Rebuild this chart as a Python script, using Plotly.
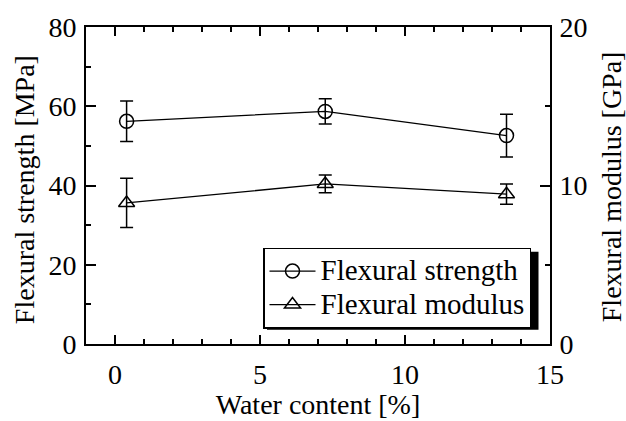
import plotly.graph_objects as go

water = [0.4, 7.25, 13.5]
strength = [56.2, 58.7, 52.6]
strength_err = [5.1, 3.2, 5.4]
modulus = [8.9, 10.1, 9.45]
modulus_err = [1.55, 0.56, 0.64]

FONT = "Liberation Serif"
W, H = 626, 421
L, R, T, B = 86, 76, 25, 71.5
pw, ph = W - L - R, H - T - B

fig = go.Figure()
fig.add_trace(go.Scatter(
    x=water, y=strength, name='<span style="font-size:29px">Flexural strength</span>',
    mode="lines+markers",
    line=dict(color="black", width=1.3),
    marker=dict(symbol="circle-open", size=14, color="black", line=dict(width=1.5)),
    error_y=dict(type="data", array=strength_err, color="black", thickness=1.5, width=6.5),
))
fig.add_trace(go.Scatter(
    x=water, y=modulus, name='<span style="font-size:29px">Flexural modulus</span>',
    mode="lines+markers", yaxis="y2",
    line=dict(color="black", width=1.3),
    marker=dict(symbol="triangle-up-open", size=14, color="black", line=dict(width=1.5)),
    error_y=dict(type="data", array=modulus_err, color="black", thickness=1.5, width=6.5),
))

def px2paper(x, y):
    return (x - L) / pw, (H - B - y) / ph

x0, y0 = px2paper(267, 255)
x1, y1 = px2paper(538.5, 335)
fig.add_shape(type="rect", xref="paper", yref="paper", x0=x0, y0=y1, x1=x1, y1=y0,
              fillcolor="black", line=dict(width=0), layer="above")

lx, ly = px2paper(263, 251)

tx, ty = px2paper(24, 192)
fig.add_annotation(text="Flexural strength [MPa]", xref="paper", yref="paper",
                   x=tx, y=ty, xanchor="center", yanchor="middle", textangle=-90,
                   showarrow=False, font=dict(family=FONT, size=28, color="black"))
tx2, ty2 = px2paper(611, 189)
fig.add_annotation(text="Flexural modulus [GPa]", xref="paper", yref="paper",
                   x=tx2, y=ty2, xanchor="center", yanchor="middle", textangle=-90,
                   showarrow=False, font=dict(family=FONT, size=28, color="black"))

tickfont = dict(family=FONT, size=28, color="black")
minor_common = dict(ticks="inside", ticklen=5, tickwidth=1.5, tickcolor="black", showgrid=False)
fig.update_layout(
    width=W, height=H,
    margin=dict(l=L, r=R, t=T, b=B),
    paper_bgcolor="white", plot_bgcolor="white",
    font=dict(family=FONT, color="black"),
    showlegend=True,
    legend=dict(x=lx, y=ly, xanchor="left", yanchor="top",
                bgcolor="white", bordercolor="black", borderwidth=1.5,
                font=dict(family=FONT, size=23.5, color="black"),
                itemwidth=46, tracegroupgap=0),
    xaxis=dict(range=[-1, 15], tickvals=[0, 5, 10, 15], ticks="inside", ticklen=9,
               tickwidth=1.5, tickcolor="black", showline=True, linecolor="black",
               linewidth=1.8, mirror="ticks", showgrid=False, zeroline=False,
               tickfont=tickfont, ticklabelstandoff=4,
               minor=dict(dtick=1, **minor_common),
               title=dict(text="Water content [%]", font=dict(family=FONT, size=28), standoff=0)),
    yaxis=dict(range=[0, 80], dtick=20, ticks="inside", ticklen=10, tickwidth=1.5,
               tickcolor="black", showline=True, linecolor="black", linewidth=1.8,
               showgrid=False, zeroline=False, tickfont=tickfont, ticklabelstandoff=2,
               minor=dict(dtick=10, **minor_common)),
    yaxis2=dict(range=[0, 20], dtick=10, overlaying="y", side="right", ticks="inside",
                ticklen=10, tickwidth=1.5, tickcolor="black", showline=True,
                linecolor="black", linewidth=1.8, showgrid=False, zeroline=False,
                tickfont=tickfont, ticklabelstandoff=2,
                minor=dict(dtick=5, **minor_common)),
)

fig.write_html("out.html")
